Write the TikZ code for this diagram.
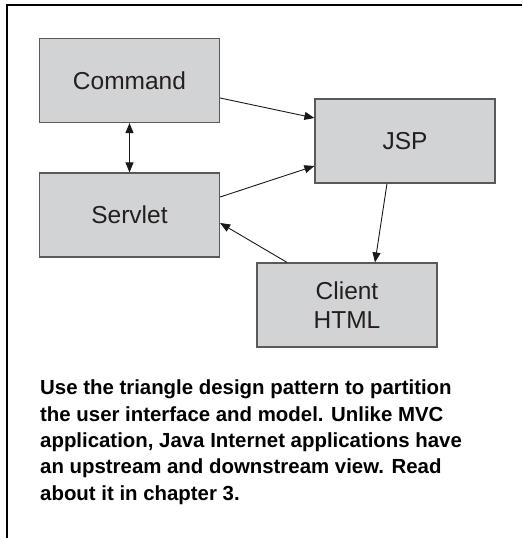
\documentclass[tikz,border=0pt]{standalone}
\usepackage{fontspec}
\setmainfont{Liberation Sans}
\usepackage{tikz}
\usetikzlibrary{arrows.meta,positioning}
\definecolor{boxgray}{HTML}{D1D3D4}
\definecolor{edgegray}{HTML}{58595B}
\definecolor{inkgray}{HTML}{231F20}
\tikzstyle{comp}=[rectangle,draw=edgegray,line width=1.2pt,fill=boxgray,text=inkgray,
  minimum width=180pt,minimum height=84pt,inner sep=0pt,align=center,
  font=\fontsize{24.5}{29}\selectfont]
\tikzstyle{arrow}=[line width=0.9pt,draw=black!90,-{Triangle[length=10pt,width=8pt]}]

\begin{document}
\begin{tikzpicture}[
        x=1pt,y=-1pt,
        >={Triangle[length=10pt,width=8pt]}
        ]
        \useasboundingbox (0,0) rectangle (522,538);
        % frame
        \draw[line width=2pt] (522,5) -- (6.5,5) -- (6.5,538);
        \node[comp](cmd) at (129.5,80.5) {Command};
        \node[comp](srv) at (129.5,215) {Servlet};
        \node[comp](jsp) at (405,141) {JSP};
        \node[comp](cli) at (347,305) {Client\\HTML};
        \path
        ([yshift=-17.5pt]cmd.east) edge[arrow] ([yshift=23pt]jsp.west)
        ([yshift=18pt]srv.east) edge[arrow] ([yshift=-25pt]jsp.west)
        ([xshift=-18pt]jsp.south) edge[arrow] ([xshift=28pt]cli.north)
        ([xshift=-60pt]cli.north) edge[arrow] ([yshift=-8pt]srv.east)
        ;
        \draw[arrow,<->] (cmd.south) -- (srv.north);
        \node[anchor=base west,inner sep=0pt,align=left,
          font=\bfseries\fontsize{20.4}{26.3}\selectfont](note) at (40,500)
          {Use the triangle design pattern to partition\\
           the user interface and model. Unlike MVC\\
           application, Java Internet applications have\\
           an upstream and downstream view. Read\\
           about it in chapter 3.};
\end{tikzpicture}
\end{document}
